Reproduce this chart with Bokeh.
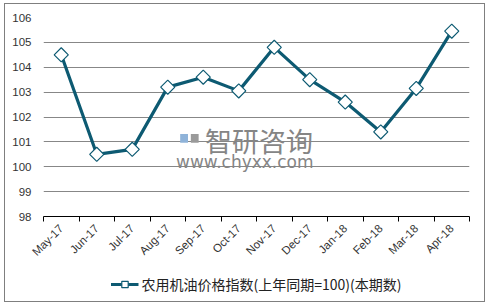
import math
from bokeh.plotting import figure
from bokeh.layouts import column
from bokeh.models import Range1d, FixedTicker, Legend, LegendItem, Label
from bokeh.embed import file_html
from bokeh.resources import INLINE

months = ["May-17", "Jun-17", "Jul-17", "Aug-17", "Sep-17", "Oct-17",
          "Nov-17", "Dec-17", "Jan-18", "Feb-18", "Mar-18", "Apr-18"]
values = [104.5, 100.5, 100.7, 103.2, 103.6, 103.05, 104.8, 103.5, 102.6, 101.4, 103.15, 105.45]
y_ticks = [98, 99, 100, 101, 102, 103, 104, 105, 106]
series_name = "农用机油价格指数(上年同期=100)(本期数)"

xs = [i + 0.5 for i in range(len(months))]

LINE = "#0d5a72"
GRID = "#878787"

p = figure(width=479, height=264, output_backend="svg", toolbar_location=None,
           x_range=Range1d(0, len(months)), y_range=Range1d(y_ticks[0], y_ticks[-1]),
           min_border_left=38, min_border_right=15, min_border_top=13, min_border_bottom=52)
p.outline_line_color = None
p.background_fill_color = "white"
p.border_fill_color = "white"

# x axis: labels at centers, ticks at boundaries
p.xaxis.ticker = FixedTicker(ticks=xs, minor_ticks=list(range(len(months) + 1)))
p.xaxis.major_label_overrides = {x: m for x, m in zip(xs, months)}
p.xaxis.major_tick_out = 0
p.xaxis.major_tick_in = 0
p.xaxis.minor_tick_out = 5
p.xaxis.minor_tick_in = 0
p.xaxis.minor_tick_line_color = "black"
p.xaxis.axis_line_color = "black"
p.xaxis.axis_line_width = 1
p.xaxis.major_label_orientation = math.pi / 4
p.xaxis.major_label_text_font = "Liberation Sans"
p.xaxis.major_label_text_font_size = "11.5px"
p.xaxis.major_label_text_color = "#333333"
p.xaxis.major_label_standoff = 5
p.xgrid.grid_line_color = None

p.yaxis.ticker = FixedTicker(ticks=y_ticks)
p.yaxis.axis_line_color = None
p.yaxis.major_tick_line_color = None
p.yaxis.minor_tick_line_color = None
p.yaxis.major_label_text_font = "Liberation Sans"
p.yaxis.major_label_text_font_size = "11.5px"
p.yaxis.major_label_text_color = "#333333"
p.yaxis.major_label_standoff = 6
p.ygrid.ticker = FixedTicker(ticks=y_ticks[1:])
p.ygrid.grid_line_color = GRID
p.ygrid.grid_line_width = 1

ln = p.line(xs, values, line_color=LINE, line_width=3.2)
sc = p.scatter(xs, values, marker="square", angle=math.pi / 4, size=10, fill_color="white",
               line_color=LINE, line_width=1.2)

# watermark
p.rect(x=[3.96], y=[101.14], width=0.22, height=0.36, fill_color="#8fb3d9",
       line_color=None)
p.rect(x=[4.26], y=[101.14], width=0.22, height=0.36, fill_color="#9a9a9a",
       line_color=None)
p.add_layout(Label(x=5.0, y=101.06, text="智研咨询", text_font="Noto Sans CJK SC",
                   text_font_size="27px", text_color="#858585",
                   text_baseline="middle", text_align="left", x_offset=-16))
p.add_layout(Label(x=5.0, y=100.18, text="www.chyxx.com", text_font="DejaVu Sans",
                   text_font_size="17px", text_color="#858585",
                   text_baseline="middle", text_align="left", x_offset=-45))

# legend strip (same series drawn off-range so only the legend shows)
lp = figure(width=479, height=33, output_backend="svg", toolbar_location=None,
            x_range=Range1d(-100, -99), y_range=Range1d(-100, -99),
            min_border_left=0, min_border_right=0, min_border_top=0, min_border_bottom=0)
lp.axis.visible = False
lp.grid.visible = False
lp.outline_line_color = None
lr_line = lp.line(xs, values, line_color=LINE, line_width=3.2)
lr_mark = lp.scatter(xs, values, marker="square", angle=math.pi / 4, size=7, fill_color="white",
                     line_color=LINE, line_width=1.2)
legend = Legend(items=[LegendItem(label=series_name, renderers=[lr_line, lr_mark])],
                location="top_center", orientation="horizontal",
                label_text_font="Noto Sans CJK SC", label_text_font_size="14px",
                label_text_color="#222222", glyph_width=28, glyph_height=16,
                padding=0, margin=6, border_line_color=None,
                background_fill_alpha=0, label_standoff=3)
lp.add_layout(legend, "center")

layout = column(p, lp, spacing=0, styles={"border": "1px solid #7f7f7f"}, margin=(3, 0, 0, 4))

open("out.html", "w").write(file_html(layout, INLINE))
